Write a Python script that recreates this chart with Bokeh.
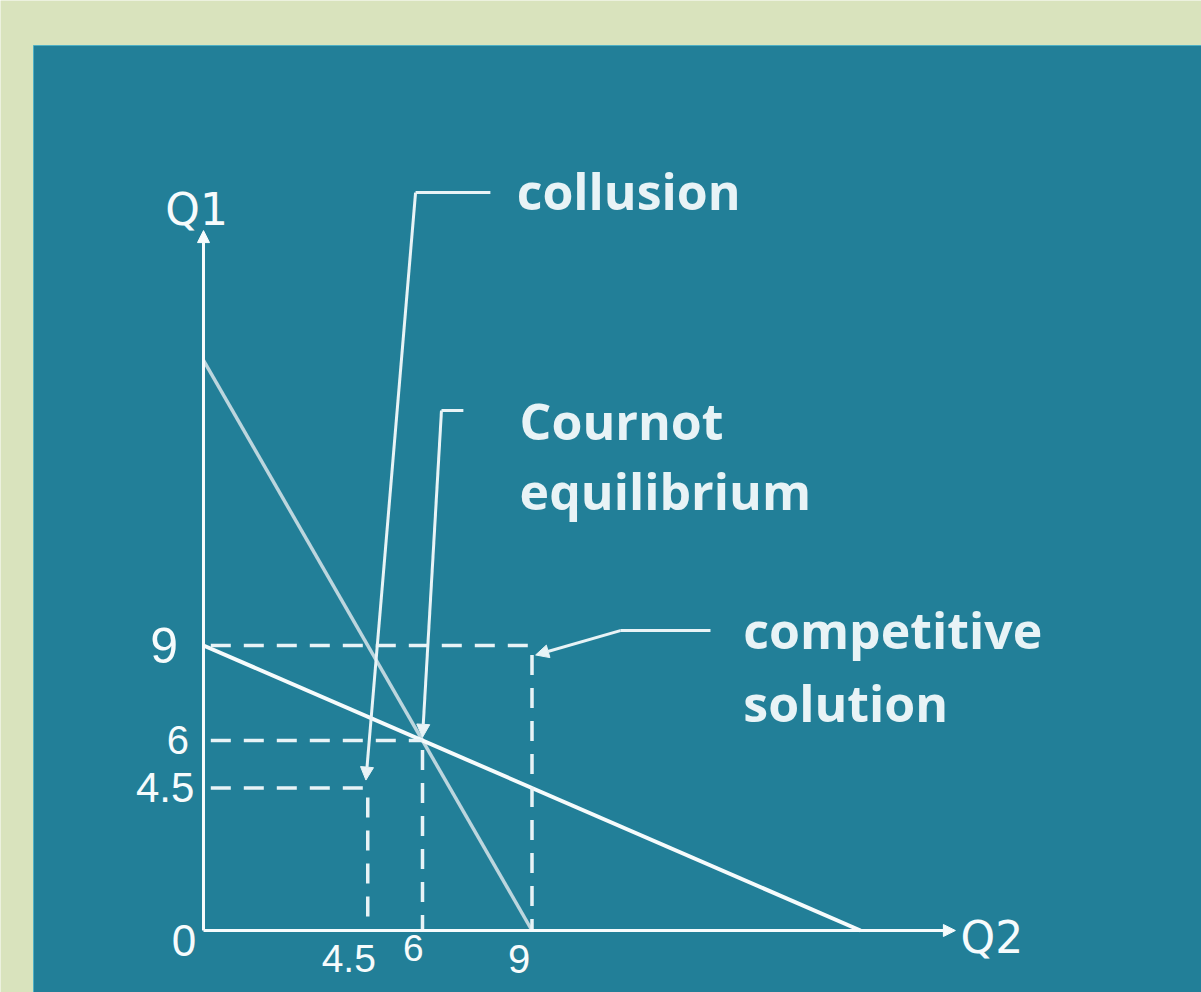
from bokeh.plotting import figure
from bokeh.models import Range1d, Arrow, NormalHead, ColumnDataSource
from bokeh.core.properties import value
from bokeh.embed import file_html
from bokeh.resources import INLINE

# --- data -------------------------------------------------------------
# reaction curve of firm 1: Q1 = 18 - 2*Q2
r1_q2 = [0, 9]
r1_q1 = [18, 0]
# reaction curve of firm 2: Q1 = 9 - Q2/2
r2_q2 = [0, 18]
r2_q1 = [9, 0]

# outcomes (each firm's output)
outcome_names = ["collusion", "Cournot", "competitive"]
outcome_q = [4.5, 6, 9]

# tick labels
q1_ticks = [9, 6, 4.5]
q1_tick_labels = ["9", "6", "4.5"]
q2_ticks = [4.5, 6, 9]
q2_tick_labels = ["4.5", "6", "9"]

# --- styling ----------------------------------------------------------
OUTER = "#d9e3bd"
PANEL = "#227f98"
LIGHT = "#e8f3f6"
PALE = "#bcd6de"
WHITE = "#f6fbfc"

XS = 36.5   # px per Q2 unit
YS = 31.67  # px per Q1 unit
OX, OY = 203, 930  # origin on the canvas

p = figure(width=1201, height=992, output_backend="svg", toolbar_location=None,
           x_axis_location=None, y_axis_location=None, min_border=0,
           x_range=Range1d(-OX / XS, (1201 - OX) / XS),
           y_range=Range1d(-(992 - OY) / YS, OY / YS))
p.grid.visible = False
p.outline_line_color = None
p.background_fill_color = OUTER
p.border_fill_color = OUTER

# slide panel
p.quad(left=[(33 - OX) / XS], right=[40], bottom=[-10], top=[(OY - 45) / YS],
       fill_color=PANEL, line_color="#4fb0c4", line_width=1)

# axes with arrow heads
p.add_layout(Arrow(end=NormalHead(size=12, fill_color=WHITE, line_color=WHITE),
                   x_start=0, y_start=0, x_end=0, y_end=22.1,
                   line_color=WHITE, line_width=3))
p.add_layout(Arrow(end=NormalHead(size=12, fill_color=WHITE, line_color=WHITE),
                   x_start=0, y_start=0, x_end=20.6, y_end=0,
                   line_color=WHITE, line_width=3))

# reaction curves
p.line(r1_q2, r1_q1, line_color=PALE, line_width=3.5)
p.line(r2_q2, r2_q1, line_color=WHITE, line_width=4)

# dashed guides to each outcome
p.segment(x0=[0.2] * len(outcome_q), y0=outcome_q, x1=outcome_q, y1=outcome_q,
          line_color=LIGHT, line_width=3.5, line_dash="20 13")
p.segment(x0=outcome_q, y0=[q - 0.3 for q in outcome_q], x1=outcome_q, y1=[0] * len(outcome_q),
          line_color=LIGHT, line_width=3.5, line_dash="20 13")

# leader lines from the labels
leaders = [
    # (hook start x, hook y, bend x, tip x, tip y)
    (7.86, 23.30, 5.81, outcome_q[0] - 0.05, outcome_q[0] + 0.25),
    (7.12, 16.42, 6.52, outcome_q[1], outcome_q[1] + 0.1),
    (13.89, 9.47, 11.42, outcome_q[2] + 0.1, outcome_q[2] - 0.3),
]
for sx, sy, bx, tx, ty in leaders:
    p.line([sx, bx], [sy, sy], line_color=LIGHT, line_width=3)
    p.add_layout(Arrow(end=NormalHead(size=13, fill_color=LIGHT, line_color=LIGHT),
                       x_start=bx, y_start=sy, x_end=tx, y_end=ty,
                       line_color=LIGHT, line_width=3))

# annotation texts
label_src = ColumnDataSource(dict(
    x=[8.58, 8.66, 8.66, 14.79, 14.79],
    y=[23.36, 16.08, 13.89, 9.50, 7.19],
    t=["collusion", "Cournot", "equilibrium", "competitive", "solution"],
))
p.text("x", "y", text="t", source=label_src, text_color=LIGHT,
       text_font=value("Open Sans"), text_font_style="bold",
       text_font_size="50px", text_baseline="alphabetic", text_align="left")

# axis titles
p.text([-0.19], [22.77], text=["Q1"], text_color=WHITE, text_font=value("DejaVu Sans"),
       text_font_size="44px", text_baseline="alphabetic", text_align="center")
p.text([20.74], [-0.22], text=["Q2"], text_color=WHITE, text_font=value("DejaVu Sans"),
       text_font_size="44px", text_baseline="alphabetic", text_align="left")

# tick labels
q1_src = ColumnDataSource(dict(x=[-0.7, -0.4, -0.25], y=q1_ticks, t=q1_tick_labels,
                               s=["50px", "40px", "42px"]))
p.text("x", "y", text="t", source=q1_src, text_color=WHITE,
       text_font=value("Liberation Sans"), text_font_size="s",
       text_baseline="middle", text_align="right")
q2_src = ColumnDataSource(dict(x=[q2_ticks[0] - 0.52, q2_ticks[1] - 0.25, q2_ticks[2] - 0.35],
                               y=[-0.45, -0.15, -0.45],
                               t=q2_tick_labels, s=["39px", "37px", "40px"]))
p.text("x", "y", text="t", source=q2_src, text_color=WHITE,
       text_font=value("Liberation Sans"), text_font_size="s",
       text_baseline="top", text_align="center")
p.text([-0.2], [-0.3], text=["0"], text_color=WHITE, text_font=value("Liberation Sans"),
       text_font_size="44px", text_baseline="middle", text_align="right")

open("out.html", "w").write(file_html(p, INLINE))
